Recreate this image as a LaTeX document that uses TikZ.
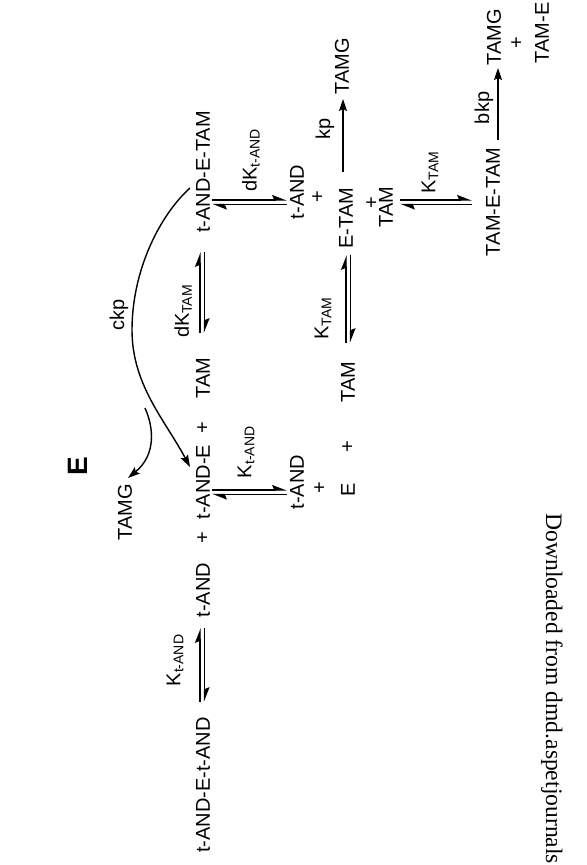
\documentclass[tikz,border=0pt]{standalone}
\usepackage{fontspec}
\setmainfont{Liberation Sans}
\newfontfamily\wmfont{Liberation Serif}
\usetikzlibrary{arrows.meta}
\begin{document}
\begin{tikzpicture}[x=0.5pt,y=-0.5pt,
  lbl/.style={rotate=90,inner sep=0pt,font=\fontsize{10}{12}\selectfont},
  harp/.style={-{Stealth[harpoon,length=6.5pt,width=5pt,inset=1pt]},line width=0.7pt},
  rxn/.style={-{Stealth[length=6pt,width=4pt,inset=1pt]},line width=0.7pt}]
\useasboundingbox (0,0) rectangle (586,865);
% species, row 1
\node[lbl] (c1) at (203,785) {t-AND-E-t-AND};
\node[lbl] (tand1) at (203,590) {t-AND};
\node[lbl] (p1) at (203,538) {+};
\node[lbl] (tande) at (203,482) {t-AND-E};
\node[lbl] (p2) at (203,428) {+};
\node[lbl] (tam1) at (203,378) {TAM};
\node[lbl] (tandetam) at (203,172) {t-AND-E-TAM};
% dissociation products
\node[lbl] (tand2) at (297,192) {t-AND};
\node[lbl] (p3) at (318,197) {+};
\node[lbl] (etam) at (346,218) {E-TAM};
\node[lbl] (tamg2) at (342,66) {TAMG};
\node[lbl] (p4) at (372,203) {+};
\node[lbl] (tam3) at (386,207) {TAM};
\node[lbl] (tametam) at (493,202) {TAM-E-TAM};
\node[lbl] (tamg3) at (494,37) {TAMG};
\node[lbl] (p5) at (517,43) {+};
\node[lbl] (tame) at (542,33) {TAM-E};
\node[lbl] (tand3) at (297,482) {t-AND};
\node[lbl] (p6) at (320,488) {+};
\node[lbl] (e1) at (348,490) {E};
\node[lbl] (p7) at (348,447) {+};
\node[lbl] (tam2) at (348,382) {TAM};
\node[lbl] (tamg1) at (125,512) {TAMG};
\node[rotate=90,inner sep=0pt,font=\fontsize{14}{16}\selectfont\bfseries] (title) at (78,466) {E};
% constants
\node[lbl] (k1) at (175,660) {K\textsubscript{t-AND}};
\node[lbl] (k2) at (183,311) {dK\textsubscript{TAM}};
\node[lbl] (k3) at (323,318) {K\textsubscript{TAM}};
\node[lbl] (k4) at (246,452) {K\textsubscript{t-AND}};
\node[lbl] (k5) at (251,160) {dK\textsubscript{t-AND}};
\node[lbl] (k6) at (430,172) {K\textsubscript{TAM}};
\node[lbl] (kp) at (325,129) {kp};
\node[lbl] (bkp) at (484,108) {bkp};
\node[lbl] (ckp) at (119,315) {ckp};
% watermark
\node[rotate=-90,anchor=base west,inner sep=0pt,font=\wmfont\fontsize{11.8}{14}\selectfont] (wm) at (546,513) {Downloaded from dmd.aspetjournals};
% equilibrium arrows
\coordinate (a1) at (200,702); \coordinate (a2) at (200,628);
\coordinate (a3) at (204.5,628); \coordinate (a4) at (204.5,702);
\draw[harp] (a1) -- (a2); \draw[harp] (a3) -- (a4);
\coordinate (b1) at (200,333); \coordinate (b2) at (200,252);
\coordinate (b3) at (204.5,252); \coordinate (b4) at (204.5,333);
\draw[harp] (b1) -- (b2); \draw[harp] (b3) -- (b4);
\coordinate (c1a) at (346,343); \coordinate (c2a) at (346,255);
\coordinate (c3a) at (350.5,255); \coordinate (c4a) at (350.5,343);
\draw[harp] (c1a) -- (c2a); \draw[harp] (c3a) -- (c4a);
\coordinate (d1) at (212,490); \coordinate (d2) at (287,490);
\coordinate (d3) at (287,494.5); \coordinate (d4) at (212,494.5);
\draw[harp] (d1) -- (d2); \draw[harp] (d3) -- (d4);
\coordinate (e1a) at (212,200); \coordinate (e2a) at (287,200);
\coordinate (e3a) at (287,204.5); \coordinate (e4a) at (212,204.5);
\draw[harp] (e1a) -- (e2a); \draw[harp] (e3a) -- (e4a);
\coordinate (f1) at (400,200); \coordinate (f2) at (472,200);
\coordinate (f3) at (472,204.5); \coordinate (f4) at (400,204.5);
\draw[harp] (f1) -- (f2); \draw[harp] (f3) -- (f4);
% irreversible steps
\coordinate (kps) at (343,172); \coordinate (kpe) at (343,99);
\draw[rxn] (kps) -- (kpe);
\coordinate (bkps) at (498,140); \coordinate (bkpe) at (498,68);
\draw[rxn] (bkps) -- (bkpe);
% ckp curve
\coordinate (cs) at (190,188); \coordinate (cm) at (132,330); \coordinate (ce) at (190,467);
\draw[rxn] (cs) .. controls (160,215) and (132,270) .. (cm) .. controls (132,385) and (165,420) .. (ce);
\coordinate (bs) at (145,408); \coordinate (be) at (128,478);
\draw[rxn] (bs) .. controls (154,428) and (156,455) .. (be);
\end{tikzpicture}
\end{document}
